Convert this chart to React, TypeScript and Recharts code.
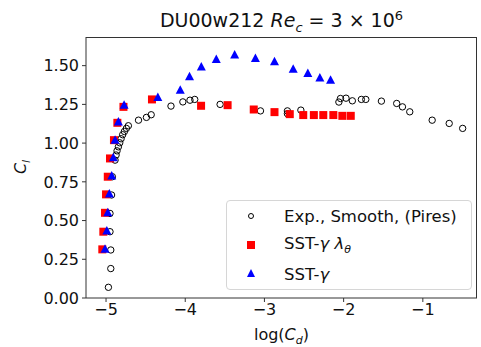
import React from "react";
import { ScatterChart, Scatter, XAxis, YAxis } from "recharts";

const expX = [-4.97, -4.94, -4.94, -4.95, -4.95, -4.93, -4.92, -4.886, -4.873, -4.861, -4.844, -4.827, -4.81, -4.79, -4.768, -4.743, -4.718, -4.59, -4.49, -4.43, -4.18, -4.03, -3.94, -3.88, -3.56, -3.05, -2.71, -2.71, -2.54, -2.06, -2.04, -1.97, -1.89, -1.776, -1.72, -1.523, -1.33, -1.257, -1.165, -0.882, -0.667, -0.497];
const expY = [0.069, 0.19, 0.31, 0.428, 0.546, 0.665, 0.783, 0.89, 0.923, 0.95, 0.976, 1.002, 1.028, 1.054, 1.075, 1.095, 1.112, 1.148, 1.166, 1.183, 1.239, 1.266, 1.277, 1.282, 1.25, 1.208, 1.208, 1.19, 1.213, 1.265, 1.288, 1.29, 1.273, 1.282, 1.282, 1.271, 1.256, 1.234, 1.202, 1.148, 1.127, 1.095];

const lamX = [-5.047, -5.034, -5.013, -5.0, -4.978, -4.95, -4.9, -4.857, -4.78, -4.42, -3.8, -3.465, -3.135, -2.873, -2.68, -2.51, -2.376, -2.257, -2.13, -2.016, -1.91];
const lamY = [0.314, 0.428, 0.55, 0.669, 0.783, 0.901, 1.019, 1.131, 1.234, 1.282, 1.241, 1.245, 1.217, 1.2, 1.187, 1.181, 1.181, 1.181, 1.181, 1.176, 1.176];

const gamX = [-5.013, -4.99, -4.978, -4.958, -4.928, -4.908, -4.886, -4.844, -4.772, -4.346, -4.063, -3.946, -3.797, -3.608, -3.376, -3.114, -2.873, -2.637, -2.452, -2.3, -2.165];
const gamY = [0.314, 0.432, 0.55, 0.671, 0.787, 0.905, 1.019, 1.137, 1.245, 1.295, 1.342, 1.428, 1.492, 1.54, 1.568, 1.546, 1.525, 1.477, 1.45, 1.421, 1.406];

const xTicks = [-5, -4, -3, -2, -1];
const yTicks = [0, 0.25, 0.5, 0.75, 1.0, 1.25, 1.5];

const expData = expX.map((x, i) => ({ x, y: expY[i] }));
const lamData = lamX.map((x, i) => ({ x, y: lamY[i] }));
const gamData = gamX.map((x, i) => ({ x, y: gamY[i] }));

const FONT = "'DejaVu Sans', sans-serif";
const AX = "#333";

const Circle = (p: any) => (
  <circle cx={p.cx} cy={p.cy} r={3.2} fill="none" stroke="#000" strokeWidth={1} />
);
const Square = (p: any) => (
  <rect x={p.cx - 4} y={p.cy - 4} width={8} height={8} fill="#ff0000" />
);
const Tri = (p: any) => (
  <polygon
    points={`${p.cx},${p.cy - 5} ${p.cx - 4.5},${p.cy + 3.5} ${p.cx + 4.5},${p.cy + 3.5}`}
    fill="#0000ff"
  />
);

const fmtX = (v: number) => (v < 0 ? "\u2212" + Math.abs(v) : String(v));
const fmtY = (v: number) => v.toFixed(2);

export default function App() {
  return (
    <div style={{ position: "absolute", left: 0, top: 0, width: 481, height: 347, background: "#fff", fontFamily: FONT }}>
      <ScatterChart width={481} height={347} margin={{ top: 37, right: 4, bottom: 0, left: 0 }}>
        <XAxis
          type="number"
          dataKey="x"
          domain={[-5.253, -0.316]}
          ticks={xTicks}
          tickFormatter={fmtX}
          allowDataOverflow
          height={49}
          stroke={AX}
          tickSize={4}
          tickMargin={2}
          tick={{ fill: "#111", fontSize: 16, fontFamily: FONT }}
        />
        <YAxis
          type="number"
          dataKey="y"
          domain={[0, 1.685]}
          ticks={yTicks}
          tickFormatter={fmtY}
          allowDataOverflow
          width={86}
          stroke={AX}
          tickSize={4}
          tickMargin={3}
          tick={{ fill: "#111", fontSize: 16, fontFamily: FONT }}
        />
        <Scatter data={expData} shape={Circle} isAnimationActive={false} />
        <Scatter data={lamData} shape={Square} isAnimationActive={false} />
        <Scatter data={gamData} shape={Tri} isAnimationActive={false} />
      </ScatterChart>

      <div style={{ position: "absolute", left: 86, top: 37, width: 390, height: 260, borderTop: `1px solid ${AX}`, borderRight: `1px solid ${AX}`, pointerEvents: "none" }} />

      <div style={{ position: "absolute", left: 86, width: 391, top: 8, textAlign: "center", fontSize: 19, color: "#111", whiteSpace: "nowrap" }}>
        DU00w212 <i>Re</i><sub style={{ fontSize: 13, fontStyle: "italic" }}>c</sub> = 3 × 10<sup style={{ fontSize: 13 }}>6</sup>
      </div>

      <div style={{ position: "absolute", left: 86, width: 391, top: 325, textAlign: "center", fontSize: 16, color: "#111", whiteSpace: "nowrap" }}>
        log(<i>C</i><sub style={{ fontSize: 11, fontStyle: "italic" }}>d</sub>)
      </div>

      <div style={{ position: "absolute", left: 22, top: 167, transform: "translate(-50%, -50%) rotate(-90deg)", fontSize: 16, color: "#111", whiteSpace: "nowrap" }}>
        <i>C</i><sub style={{ fontSize: 11, fontStyle: "italic" }}>l</sub>
      </div>

      <div style={{ position: "absolute", left: 226, top: 200, width: 244, height: 88, background: "rgba(255,255,255,0.85)", border: "1px solid #d6d6d6", borderRadius: 4, fontSize: 16.5, color: "#111" }}>
        {[
          { label: <>Exp., Smooth, (Pires)</>, m: <circle cx={8} cy={8} r={2.5} fill="none" stroke="#000" strokeWidth={1} /> },
          { label: <>SST-<i>γ</i> <i>λ</i><sub style={{ fontSize: 11, fontStyle: "italic" }}>θ</sub></>, m: <rect x={4} y={4} width={8} height={8} fill="#ff0000" /> },
          { label: <>SST-<i>γ</i></>, m: <polygon points="8,3 4,11 12,11" fill="#0000ff" /> },
        ].map((e, i) => (
          <div key={i} style={{ position: "absolute", left: 16, top: 5 + i * 29, height: 20, display: "flex", alignItems: "center", whiteSpace: "nowrap" }}>
            <svg width={16} height={16} style={{ marginRight: 25 }}>{e.m}</svg>
            <span>{e.label}</span>
          </div>
        ))}
      </div>
    </div>
  );
}
